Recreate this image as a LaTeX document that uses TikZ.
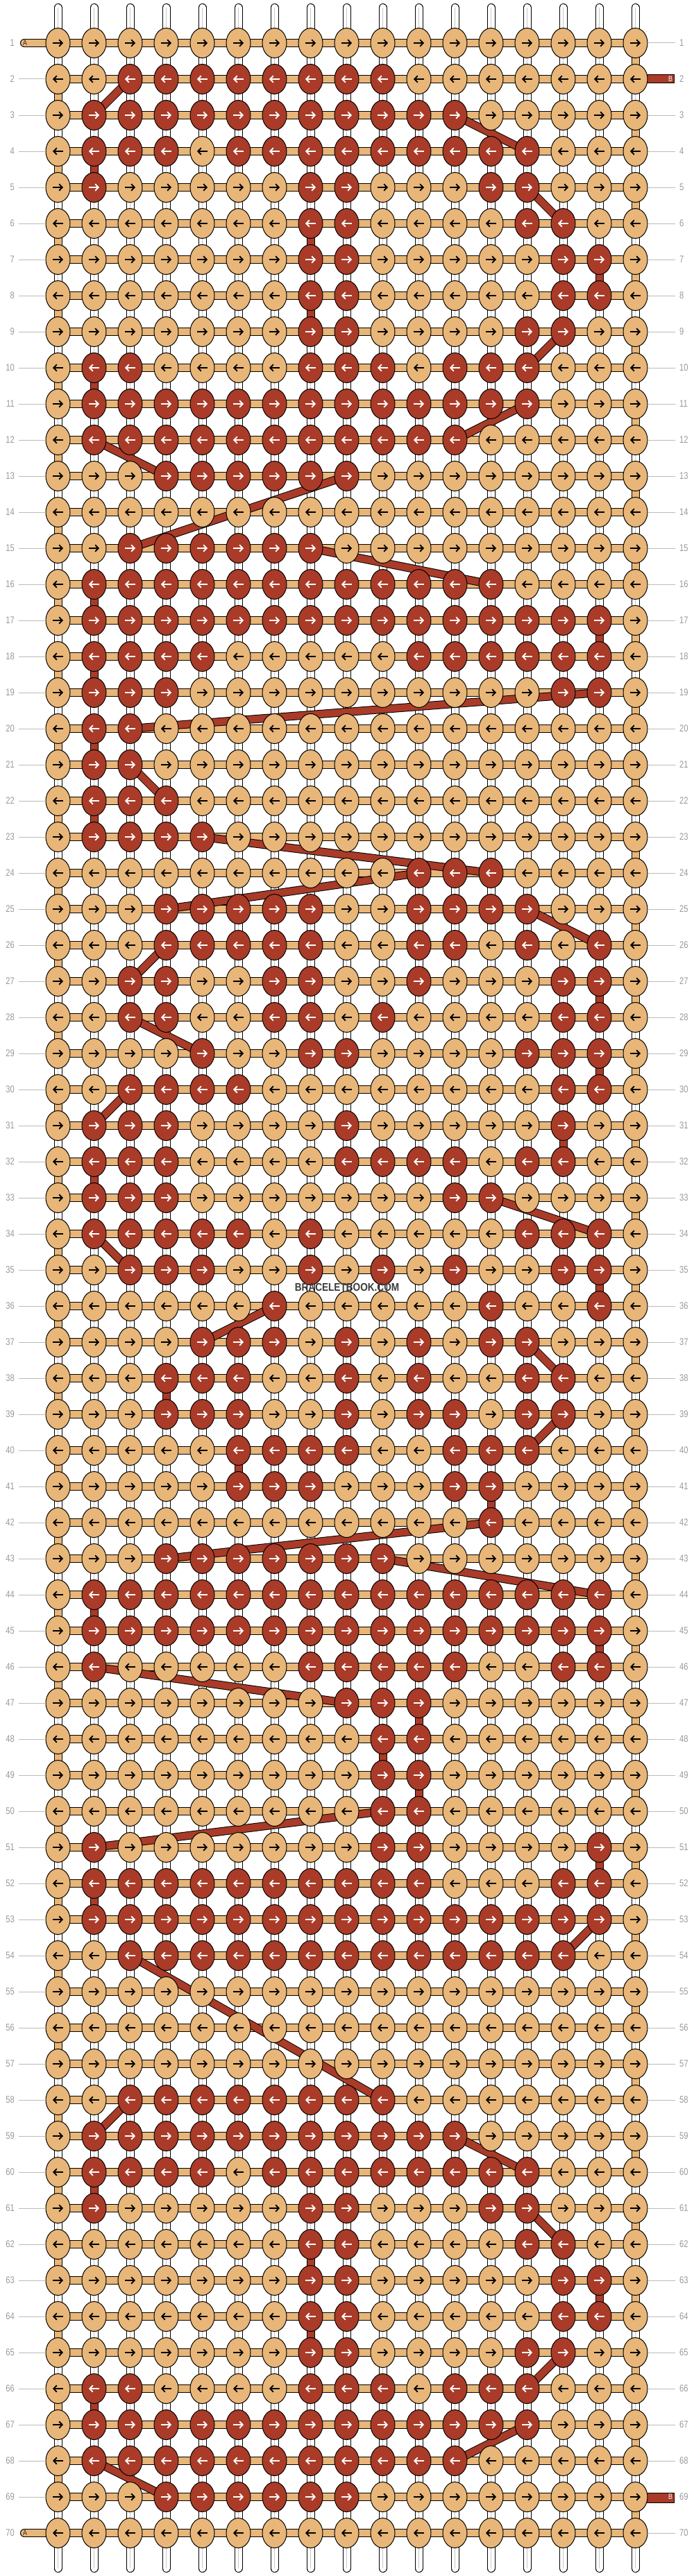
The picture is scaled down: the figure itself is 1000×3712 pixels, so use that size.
\documentclass[tikz,border=0pt]{standalone}
\usepackage{fontspec}
\setmainfont{Liberation Sans}
\newfontfamily\labfont[FakeStretch=0.8]{Liberation Sans}
\newfontfamily\wmfont[FakeStretch=0.85]{Liberation Sans}
\usetikzlibrary{shapes.geometric,arrows.meta}
\definecolor{lt}{HTML}{E8B678}
\definecolor{dk}{HTML}{A93B28}
\definecolor{lbl}{HTML}{9A9A9A}
\definecolor{lbll}{HTML}{BBBBBB}
\definecolor{wmc}{HTML}{3C3C3C}
\definecolor{cgray}{HTML}{C8C8C8}
\pgfdeclarelayer{bgfill}\pgfdeclarelayer{strands}\pgfdeclarelayer{bands}\pgfdeclarelayer{paths}
\pgfsetlayers{bgfill,strands,bands,paths,main}
\newcount\kc
\newcommand\krow[2]{\def\kr{#1}\kc=0\relax\kparse#2\relax}
\def\kparse#1{\ifx\relax#1\let\knext\relax\else\def\knext{\kput{#1}\kparse}\fi\knext}
\newcommand\kput[1]{%
  \advance\kc by 1\relax
  \ifnum#1=1 \def\kfc{dk}\def\kac{white}\else\def\kfc{lt}\def\kac{black}\fi
  \node[knotbase,fill=\kfc] (k-\kr-\the\kc) at ({83.5+52*(\the\kc-1)},{62+52*(\kr-1)}) {};
  \ifodd\kr\relax
    \draw[karrow,draw=\kac,-{Straight Barb[length=4.5pt,width=9.5pt]}] ([xshift=-7.5pt]k-\kr-\the\kc.center) -- ([xshift=7.5pt]k-\kr-\the\kc.center);
  \else
    \draw[karrow,draw=\kac,{Straight Barb[length=4.5pt,width=9.5pt]}-] ([xshift=-7.5pt]k-\kr-\the\kc.center) -- ([xshift=7.5pt]k-\kr-\the\kc.center);
  \fi}
\begin{document}
\begin{tikzpicture}[x=1pt,y=-1pt,
  knotbase/.style={ellipse,draw=black,line width=1pt,minimum width=35pt,minimum height=43pt,inner sep=0pt},
  karrow/.style={line width=1.9pt},
  wstrand/.style={draw=black,double=white,double distance=10pt,line width=1pt,line cap=round},
  hband/.style={draw=black,double=lt,double distance=10pt,line width=1pt},
  bpath/.style={draw=black,double=dk,double distance=10pt,line width=1pt},
  lab/.style={font=\fontsize{14}{14}\selectfont\labfont,text=lbl,inner sep=0pt},
  lline/.style={draw=lbll,line width=1pt},
  stubtxt/.style={font=\fontsize{11}{11}\selectfont\labfont,inner sep=0pt}]
\useasboundingbox (0,0) rectangle (1000,3712);
\begin{pgfonlayer}{bgfill}
\fill[white] (0,0) rectangle (1000,3712);
\end{pgfonlayer}
\krow{1}{00000000000000000}
\krow{2}{00111111110000000}
\krow{3}{01111111111100000}
\krow{4}{01110111111111000}
\krow{5}{01000001100011000}
\krow{6}{00000001100001100}
\krow{7}{00000001100000110}
\krow{8}{00000001100000110}
\krow{9}{00000001100001100}
\krow{10}{01100001110111000}
\krow{11}{01111111111111000}
\krow{12}{01111111111100000}
\krow{13}{00011111100000000}
\krow{14}{00000000000000000}
\krow{15}{00111111000000000}
\krow{16}{01111111111110000}
\krow{17}{01111111111111110}
\krow{18}{01111000001111110}
\krow{19}{01110000000000110}
\krow{20}{01100000000000000}
\krow{21}{01100000000000000}
\krow{22}{01110000000000000}
\krow{23}{01111000000000000}
\krow{24}{00000000001110000}
\krow{25}{00011111001111000}
\krow{26}{00011111001101010}
\krow{27}{00110011001000110}
\krow{28}{00110011010000110}
\krow{29}{00001001100001110}
\krow{30}{00111100000000110}
\krow{31}{01110000100000100}
\krow{32}{01110000111101100}
\krow{33}{01110000000110000}
\krow{34}{01111101000001110}
\krow{35}{00111001010100110}
\krow{36}{00000010000010010}
\krow{37}{00001110101011000}
\krow{38}{00011100101001100}
\krow{39}{00011100101101100}
\krow{40}{00000111100111000}
\krow{41}{00000111000110000}
\krow{42}{00000000000010000}
\krow{43}{00011111110000000}
\krow{44}{01111111111111110}
\krow{45}{01111111111111110}
\krow{46}{01000001111100110}
\krow{47}{00000000111000000}
\krow{48}{00000000011000000}
\krow{49}{00000000011000000}
\krow{50}{00000000011000000}
\krow{51}{01000000011000010}
\krow{52}{01111111111000110}
\krow{53}{01111111111111110}
\krow{54}{00111111111111100}
\krow{55}{00000000000000000}
\krow{56}{00000000000000000}
\krow{57}{00000000000000000}
\krow{58}{00111111110000000}
\krow{59}{01111111111100000}
\krow{60}{01111011111111000}
\krow{61}{01000001100011000}
\krow{62}{00000001100001100}
\krow{63}{00000001100000110}
\krow{64}{00000001100000110}
\krow{65}{00000001100001100}
\krow{66}{01100001110111000}
\krow{67}{01111111111111000}
\krow{68}{01111111111100000}
\krow{69}{00011111100000000}
\krow{70}{00000000000000000}
% white vertical strands
\begin{pgfonlayer}{strands}
\foreach \c in {1,...,17} {
  \coordinate (t-\c) at ({83.5+52*(\c-1)},11);
  \coordinate (b-\c) at ({83.5+52*(\c-1)},3701);
  \draw[wstrand] (t-\c) -- (b-\c);
  \draw[draw=cgray,line width=0.7pt] (t-\c) -- (b-\c);
}
\end{pgfonlayer}
% horizontal bands and turns
\begin{pgfonlayer}{bands}
\foreach \r in {1,...,70} { \draw[hband] (k-\r-1.center) -- (k-\r-17.center); }
\foreach \r in {1,3,...,69} { \pgfmathtruncatemacro\rn{\r+1}\draw[hband] (k-\r-17.center) -- (k-\rn-17.center); }
\foreach \r in {2,4,...,68} { \pgfmathtruncatemacro\rn{\r+1}\draw[hband] (k-\r-1.center) -- (k-\rn-1.center); }
\coordinate (aS-1) at (35,62);
\coordinate (aS-70) at (35,3650);
\draw[hband,line cap=round] (aS-1) -- (k-1-1.center);
\draw[hband,line cap=round] (aS-70) -- (k-70-1.center);
\draw[line width=1pt,fill=dk] (k-2-17.center) ++(0,-6) rectangle (971,120);
\draw[line width=1pt,fill=dk] (k-69-17.center) ++(0,-6) rectangle (971,3606);
\end{pgfonlayer}
% dark strand path
\begin{pgfonlayer}{paths}
\foreach \ra/\ca/\rb/\cb in {2/3/3/2,3/12/4/14,4/2/5/2,5/14/6/15,6/8/7/8,7/16/8/16,8/8/9/8,9/15/10/14,10/2/11/2,11/14/12/12,12/2/13/4,13/9/15/3,15/8/16/13,16/2/17/2,17/16/18/16,18/2/19/2,19/16/20/3,20/2/21/2,21/3/22/4,22/2/23/2,23/5/24/13,24/11/25/4,25/14/26/16,26/4/27/3,27/16/28/16,28/3/29/5,29/16/30/16,30/3/31/2,31/15/32/15,32/2/33/2,33/13/34/16,34/2/35/3,35/16/36/16,36/7/37/5,37/14/38/15,38/4/39/4,39/15/40/14,40/6/41/6,41/13/42/13,42/13/43/4,43/10/44/16,44/2/45/2,45/16/46/16,46/2/47/9,47/11/48/11,48/10/49/10,49/11/50/11,50/10/51/2,51/16/52/16,52/2/53/2,53/16/54/15,54/3/58/10,58/3/59/2,59/12/60/14,60/2/61/2,61/14/62/15,62/8/63/8,63/16/64/16,64/8/65/8,65/15/66/14,66/2/67/2,67/14/68/12,68/2/69/4} {
  \draw[bpath] (k-\ra-\ca.center) -- (k-\rb-\cb.center);
}
\end{pgfonlayer}
% labels
\foreach \r in {1,...,70} {
  \node[lab,anchor=east] (ll-\r) at (21,{62+52*(\r-1)}) {\r};
  \node[lab,anchor=west] (rl-\r) at (979,{62+52*(\r-1)}) {\r};
}
\foreach \r in {2,...,69} { \draw[lline,shorten <=6pt] (ll-\r.east) -- (k-\r-1.west); }
\foreach \r in {1,3,4,...,68,70} { \draw[lline,shorten <=6pt] (rl-\r.west) -- (k-\r-17.east); }
\node[stubtxt,text=black!85] (aT-1) at (36,62) {A};
\node[stubtxt,text=black!85] (aT-70) at (36,3650) {A};
\node[stubtxt,text=white] (bT-2) at (966,114) {B};
\node[stubtxt,text=white] (bT-69) at (966,3598) {B};
\node[font=\fontsize{16}{16}\selectfont\wmfont\bfseries,text=wmc,inner sep=0pt] (wm) at (500,1855) {BRACELETBOOK.COM};
\end{tikzpicture}
\end{document}
